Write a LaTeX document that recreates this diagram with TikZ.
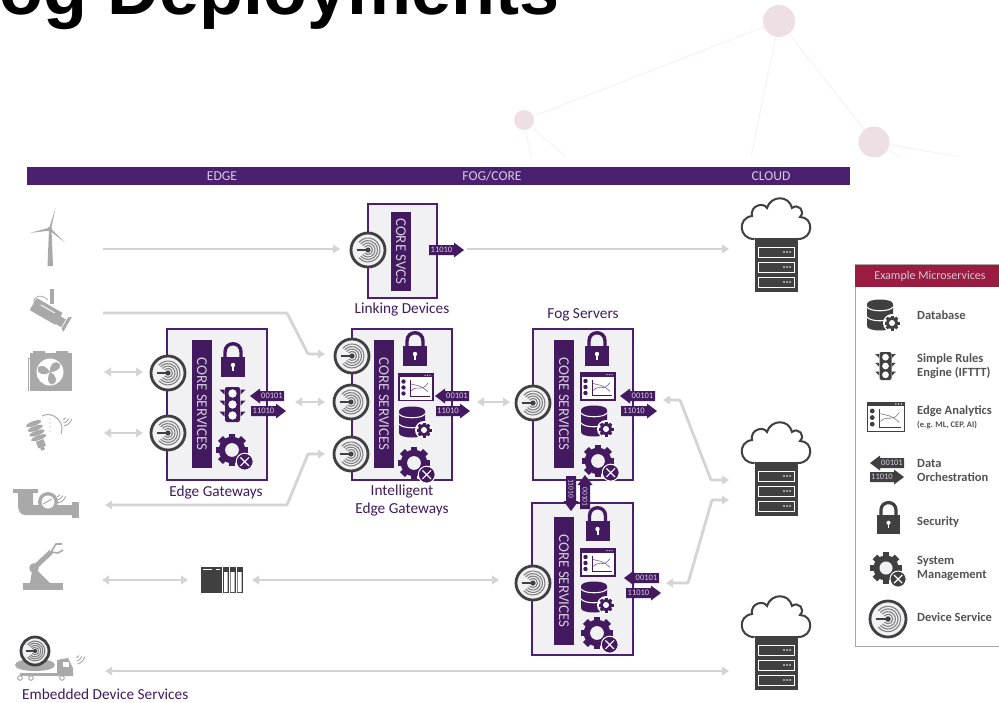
\documentclass[tikz,border=0pt]{standalone}
\usepackage{fontspec}
\setmainfont{Carlito}
\newfontfamily\titlefont{Liberation Sans}
\usetikzlibrary{arrows.meta}
\definecolor{fogpurple}{HTML}{4B2070}
\definecolor{iconpurple}{HTML}{43195F}
\definecolor{flowgray}{HTML}{D4D4D4}
\definecolor{devgray}{HTML}{A9A9A9}
\definecolor{darkicon}{HTML}{404040}
\definecolor{boxfill}{HTML}{F1F0F3}
\definecolor{pinknet}{HTML}{EEDFE5}
\definecolor{pinkline}{HTML}{F9F0F3}
\definecolor{legendred}{HTML}{9A1C40}
\definecolor{tiptext}{HTML}{D9CDE4}
\definecolor{softtext}{HTML}{D4CCDC}
\tikzset{
 flow/.style={draw=flowgray,line width=2.8pt,-{Triangle[length=7pt,width=8.5pt]},rounded corners=1pt},
 flowboth/.style={draw=flowgray,line width=2.8pt,{Triangle[length=7pt,width=8.5pt]}-{Triangle[length=7pt,width=8.5pt]},rounded corners=1pt},
 corebox/.style={draw=fogpurple,line width=2pt,fill=boxfill,inner sep=0pt},
 corebar/.style={fill=iconpurple,inner sep=0pt,text=softtext,font=\fontsize{15}{15}\selectfont},
 boxlabel/.style={text=fogpurple!85!black,font=\fontsize{15.3}{16}\selectfont,align=center,inner sep=0pt},
 headlabel/.style={text=softtext,font=\fontsize{13.6}{14}\selectfont,inner sep=0pt},
 legendlabel/.style={text=darkicon!90,font=\bfseries\fontsize{12.5}{14.5}\selectfont,align=left,anchor=west,inner sep=0pt},
 devcirc/.style={circle,draw=darkicon,line width=2.8pt,fill=#1,inner sep=0pt},
 devcirc/.default=boxfill,
}
% device service icon
\newcommand\devsvc[4]{%
 \node[devcirc,minimum size=#4*2pt] (#1) at (#2,#3) {};
 \begin{scope}[shift={(#2,#3)},scale=#4/17]
  \foreach \r in {4.5,7,9.5,12}{\draw[gray,line width=1.1pt] (140:\r) arc (140:-140:\r);}
  \fill[darkicon] (0,0) circle (2.6);
  \draw[darkicon,line width=1.1pt] (-11,0) -- (0,0);
 \end{scope}}
% lock
\newcommand\lockicon[4]{%
 \begin{scope}[shift={(#1,#2)},scale=#3]
  \draw[#4,line width=#3*3.4pt] (-8,-3) -- (-8,-8) .. controls (-8,-19) and (8,-19) .. (8,-8) -- (8,-3);
  \fill[#4] (-12,-3) rectangle (12,17);
  \fill[white] (0,5) circle (2.2);
  \fill[white] (-1,5) rectangle (1,11);
 \end{scope}}
% gear with badge
\newcommand\gearicon[4]{%
 \begin{scope}[shift={(#1,#2)},scale=#3*1.06]
  \foreach \a in {0,45,...,315}{\fill[#4,rotate=\a] (-3.2,-15.5) rectangle (3.2,-9);}
  \fill[#4] (0,0) circle (12.5);
  \fill[boxfill] (0,0) circle (6.5);
  \fill[#4,draw=white,line width=1pt] (12,11) circle (8);
  \draw[white,line width=1.2pt] (8,7) -- (16,15) (16,7) -- (8,15);
 \end{scope}}
% database
\newcommand\dbicon[4]{%
 \begin{scope}[shift={(#1,#2)},scale=#3]
  \fill[#4] (-16,-11) -- (-16,11) .. controls (-16,17) and (10,17) .. (10,11) -- (10,-11) .. controls (10,-17) and (-16,-17) .. (-16,-11) -- cycle;
  \foreach \y in {-8,2}{\draw[white,line width=1.1pt] (-16,\y) .. controls (-13,\y+5) and (7,\y+5) .. (10,\y);}
  \fill[white] (9,8) circle (9);
  \foreach \a in {0,45,...,315}{\fill[#4,rotate around={\a:(9,8)}] (7.5,0.5) rectangle (10.5,3);}
  \fill[#4] (9,8) circle (6);
  \fill[white] (9,8) circle (3);
 \end{scope}}
% analytics
\newcommand\anaicon[4]{%
 \begin{scope}[shift={(#1,#2)},scale=#3]
  \draw[#4,line width=1.1pt,fill=white] (-17,-13.5) rectangle (17,13.5);
  \fill[#4] (-17,-13.5) rectangle (17,-10);
  \fill[white] (9,-11.8) circle (.7) (11.5,-11.8) circle (.7) (14,-11.8) circle (.7);
  \fill[#4] (-12.5,-5.5) circle (2.2) (-12.5,0.5) circle (2.2) (-12.5,6.5) circle (2.2);
  \draw[#4,line width=.6pt] (-6,-7) -- (-6,9) -- (14,9);
  \draw[#4!70,line width=.6pt] (-5,4) .. controls (2,-3) and (5,6) .. (12,-4);
  \draw[#4!70,line width=.6pt] (-5,-3) .. controls (2,-1) and (5,-2) .. (12,5);
 \end{scope}}
% traffic light
\newcommand\trafficicon[4]{%
 \begin{scope}[shift={(#1,#2)},scale=#3]
  \fill[#4,rounded corners=2pt] (-7.5,-17.5) rectangle (7.5,17.5);
  \foreach \y in {-11,0,11}{
   \fill[white] (0,\y) circle (4.2);
   \fill[#4] (-13,\y-4) -- (-8,\y-4) -- (-8,\y+1) -- cycle;
   \fill[#4] (13,\y-4) -- (8,\y-4) -- (8,\y+1) -- cycle;}
 \end{scope}}
% data arrows: left tip .. right end / left end .. right tip
\newcommand\arrleft[5]{%
 \fill[#5] (#1,#3) -- (#1+10,#3-7.5) -- (#1+10,#3-5) -- (#2,#3-5) -- (#2,#3+5) -- (#1+10,#3+5) -- (#1+10,#3+7.5) -- cycle;
 \node[transform shape,text=tiptext,font=\fontsize{#4}{#4}\selectfont,inner sep=0pt] at ({(#1+10+#2)/2},#3) {00101};}
\newcommand\arrright[5]{%
 \fill[#5] (#2,#3) -- (#2-10,#3-7.5) -- (#2-10,#3-5) -- (#1,#3-5) -- (#1,#3+5) -- (#2-10,#3+5) -- (#2-10,#3+7.5) -- cycle;
 \node[transform shape,text=tiptext,font=\fontsize{#4}{#4}\selectfont,inner sep=0pt] at ({(#1+#2-10)/2},#3) {11010};}
% cloud and server
\newcommand\cloudsrv[3]{%
 \begin{scope}[shift={(#2,#3)}]
  \draw[darkicon,line width=2pt,line cap=round] (-22,36) .. controls (-37,36) and (-39,15) .. (-24,13) .. controls (-26,2) and (-12,-1) .. (-9,5) .. controls (-5,-8) and (13,-8) .. (16,5) .. controls (22,0) and (30,8) .. (24,14) .. controls (38,14) and (38,36) .. (22,36);
  \node[fill=darkicon,minimum width=43pt,minimum height=54pt,inner sep=0pt] (#1) at (0,62) {};
  \foreach \y in {44,59,74}{
   \draw[white,line width=.9pt] (-18,\y) rectangle (18,\y+10);
   \fill[white] (8,\y+5) circle (.8) (11,\y+5) circle (.8) (14,\y+5) circle (.8);}
 \end{scope}}
\newcommand\wifi[4]{%
 \begin{scope}[shift={(#1,#2)},rotate=#3]
  \foreach \r in {3,6,9}{\draw[devgray,line width=.9pt] (-35:\r) .. controls (-12:\r*1.05) and (12:\r*1.05) .. (35:\r);}
 \end{scope}}
\begin{document}
\begin{tikzpicture}[x=1pt,y=-1pt]
\useasboundingbox (0,0) rectangle (999,702);
\begin{scope}
\clip (0,0) rectangle (999,702);
\fill[white] (0,0) rectangle (999,702);
% background network
\draw[pinkline,line width=1pt] (779,21) -- (524,120) (779,21) -- (751,157) (779,21) -- (874,142) (524,120) -- (531,157) (524,120) -- (566,157) (874,142) -- (960,157) (874,142) -- (900,157);
\fill[pinknet] (779,21) circle (16) (524,120) circle (10) (874,142) circle (15.5);
\fill[white] (0,157) rectangle (999,702);
% title
\node[anchor=base west,inner sep=0pt,font=\titlefont\bfseries\fontsize{72}{72}\selectfont] (title) at (-1,14) {og Deployments};
% header
\fill[fogpurple] (27,167) rectangle (850,185);
\node[headlabel] (hedge) at (222,176) {EDGE};
\node[headlabel] (hfog) at (492,176) {FOG/CORE};
\node[headlabel] (hcloud) at (771,176) {CLOUD};

% connector end points
\coordinate (windR) at (103,249);
\coordinate (linkL) at (340,249);
\coordinate (linkR) at (467,249);
\coordinate (cloudAL) at (729,249);
\coordinate (camR) at (103,313);
\coordinate (camA) at (287,313);
\coordinate (camB) at (308,354);
\coordinate (iegTL) at (325,354);
\coordinate (fanR) at (104,372);
\coordinate (gwTL) at (143,372);
\coordinate (bulbR) at (104,433);
\coordinate (gwBL) at (143,433);
\coordinate (pipeR) at (105,505);
\coordinate (pipeA) at (287,505);
\coordinate (pipeB) at (308,454);
\coordinate (iegBL) at (325,454);
\coordinate (gwR) at (295,402);
\coordinate (iegML) at (325,402);
\coordinate (iegR) at (477,402);
\coordinate (fogAL) at (510,402);
\coordinate (robotR) at (102,580);
\coordinate (plcL) at (188,580);
\coordinate (plcR) at (252,580);
\coordinate (fogBL) at (499,580);
\coordinate (truckR) at (105,671);
\coordinate (cloudCL) at (729,671);
\coordinate (fogAR) at (663,400);
\coordinate (fogAa) at (680,400);
\coordinate (fogAb) at (711,480);
\coordinate (cloudBLa) at (729,480);
\coordinate (fogBR) at (666,583);
\coordinate (fogBa) at (688,583);
\coordinate (fogBb) at (712,500);
\coordinate (cloudBLb) at (729,500);

\draw[flow] (windR) -- (linkL);
\draw[flow] (linkR) -- (cloudAL);
\draw[flow] (camR) -- (camA) -- (camB) -- (iegTL);
\draw[flowboth] (fanR) -- (gwTL);
\draw[flowboth] (bulbR) -- (gwBL);
\draw[flowboth] (pipeR) -- (pipeA) -- (pipeB) -- (iegBL);
\draw[flowboth] (gwR) -- (iegML);
\draw[flowboth] (iegR) -- (fogAL);
\draw[flowboth] (robotR) -- (plcL);
\draw[flowboth] (plcR) -- (fogBL);
\draw[flowboth] (truckR) -- (cloudCL);
\draw[flowboth] (fogAR) -- (fogAa) -- (fogAb) -- (cloudBLa);
\draw[flowboth] (fogBR) -- (fogBa) -- (fogBb) -- (cloudBLb);

% Linking device
\node[corebox,minimum width=69pt,minimum height=94pt] (link) at (402.5,251) {};
\node[corebar,minimum width=20pt,minimum height=79pt] (linkbar) at (401,251.5) {\rotatebox{-90}{CORE SVCS}};
\devsvc{linkdev}{368}{250}{17}
\arrright{429}{464}{250}{8.5}{iconpurple}
\node[boxlabel] (linklbl) at (402,309) {Linking Devices};

% Edge gateway
\node[corebox,minimum width=100pt,minimum height=151pt] (gw) at (217,404.5) {};
\node[corebar,minimum width=20pt,minimum height=128pt] (gwbar) at (202,404) {\rotatebox{-90}{CORE SERVICES}};
\devsvc{gwdevA}{168}{373}{17}
\devsvc{gwdevB}{168}{433}{17}
\lockicon{233}{360}{1}{iconpurple}
\trafficicon{232.5}{404.5}{1}{iconpurple}
\gearicon{232}{450}{1}{iconpurple}
\arrleft{250}{284}{396}{8.5}{iconpurple}
\arrright{251}{286}{411}{8.5}{iconpurple}
\node[boxlabel] (gwlbl) at (216,492) {Edge Gateways};

% Intelligent edge gateway
\node[corebox,minimum width=100pt,minimum height=151pt] (ieg) at (402,404.5) {};
\node[corebar,minimum width=20pt,minimum height=128pt] (iegbar) at (384,404) {\rotatebox{-90}{CORE SERVICES}};
\devsvc{iegdevA}{352}{356}{17}
\devsvc{iegdevB}{351}{402}{17}
\devsvc{iegdevC}{351}{454}{17}
\lockicon{415}{349}{1}{iconpurple}
\anaicon{416}{387}{1}{iconpurple}
\dbicon{415}{422}{1}{iconpurple}
\gearicon{414}{463}{1}{iconpurple}
\arrleft{435}{469}{396}{8.5}{iconpurple}
\arrright{436}{470}{411}{8.5}{iconpurple}
\node[boxlabel] (ieglbl) at (402,500.5) {Intelligent\\[1.5pt]Edge Gateways};

% Fog server A
\node[corebox,minimum width=100pt,minimum height=151pt] (foga) at (583,404.5) {};
\node[corebar,minimum width=20pt,minimum height=128pt] (fogabar) at (564,404) {\rotatebox{-90}{CORE SERVICES}};
\devsvc{fogadev}{533}{403}{17}
\lockicon{597}{349}{1}{iconpurple}
\anaicon{598}{386.5}{1}{iconpurple}
\dbicon{597}{421}{1}{iconpurple}
\gearicon{598}{461}{1}{iconpurple}
\arrleft{620}{655}{396}{8.5}{iconpurple}
\arrright{621}{657}{411}{8.5}{iconpurple}
\node[boxlabel] (fogalbl) at (583,315) {Fog Servers};

% Fog server B
\node[corebox,minimum width=101pt,minimum height=152pt] (fogb) at (582.5,579) {};
\node[corebar,minimum width=20pt,minimum height=128pt] (fogbbar) at (564,581) {\rotatebox{-90}{CORE SERVICES}};
\devsvc{fogbdev}{533}{583}{17}
\lockicon{597.5}{524}{1}{iconpurple}
\anaicon{598}{562.5}{1}{iconpurple}
\dbicon{597}{597}{1}{iconpurple}
\gearicon{597}{633}{1}{iconpurple}
\arrleft{624}{659}{578}{8.5}{iconpurple}
\arrright{626}{661}{593}{8.5}{iconpurple}

% vertical arrows between fog servers
\begin{scope}[shift={(571,493.5)},rotate=-90]
 \arrright{-17.5}{17.5}{0}{7.5}{iconpurple}
\end{scope}
\begin{scope}[shift={(585,492)},rotate=-90]
 \arrleft{-17}{17}{0}{7.5}{iconpurple}
\end{scope}

% PLC
\fill[darkicon] (201,567) rectangle (243,593);
\draw[white,line width=.8pt] (222.5,567) -- (222.5,593) (229,567) -- (229,593) (236,567) -- (236,593);
\fill[white] (224,572) rectangle (227.5,592) (230.5,572) rectangle (234.5,592) (237.5,572) rectangle (241.5,592);
\draw[white,line width=.7pt] (203,569.5) -- (212,569.5) (216,569.5) -- (220,569.5);

% clouds
\cloudsrv{cloudA}{776}{203}
\cloudsrv{cloudB}{776}{427}
\cloudsrv{cloudC}{776}{601}

% field devices ------------------------------------------------
% wind turbine
\fill[devgray] (47.5,266) -- (53,266) -- (51.5,229) -- (49,229) -- cycle;
\fill[devgray] (50,229) circle (2.3);
\fill[devgray] (49.2,228) -- (55.5,208) -- (51,229.5) -- cycle;
\fill[devgray] (50,227.5) -- (30,233) -- (50,230.5) -- cycle;
\fill[devgray] (50.5,228) -- (65.5,243) -- (49,230) -- cycle;
% camera
\fill[devgray] (50,289) rectangle (54,304);
\begin{scope}[shift={(47,312)},rotate=-30]
 \fill[devgray,rounded corners=1pt] (-16,-7) rectangle (14,7);
 \fill[white] (-9,-3.5) rectangle (7,-2.6);
 \fill[devgray] (14,-3) -- (20,-3) -- (20,6) -- (14,6) -- cycle;
 \fill[devgray] (21,-6) -- (24,-8) -- (24,9) -- (21,7) -- cycle;
\end{scope}
\draw[devgray,line width=.8pt] (34,303) .. controls (33,295) and (42,294) .. (48,300);
% fan unit
\fill[devgray] (30,353) rectangle (72,391);
\fill[devgray] (33,351) rectangle (45,354) (56,351) rectangle (68,354);
\draw[devgray,line width=1pt] (30,358) -- (28,358) -- (28,391);
\fill[white] (50,372) circle (13.5);
\foreach \a in {20,140,260}{\fill[devgray,rotate around={\a:(50,372)}] (50,372) .. controls (52,364) and (60,362) .. (62,368) .. controls (62,373) and (55,374) .. (50,372) -- cycle;}
% bulb
\begin{scope}[shift={(37,433)},rotate=20]
 \foreach \y in {-10,-5,0,5}{\fill[devgray] (0,\y) ellipse (8 and 2.4);}
 \fill[devgray] (-4,8) rectangle (4,15);
 \fill[devgray] (-2,15) rectangle (2,18);
\end{scope}
\draw[devgray,line width=1pt] (42,416) .. controls (52,410) and (66,422) .. (61,434);
\foreach \y in {419,423,427,431}{\fill[devgray] (50,\y) circle (.7);}
\wifi{63}{417}{-50}{}
% pipe and meter
\fill[devgray] (13,489) rectangle (38,493);
\fill[devgray] (18,493) -- (33,493) -- (33,505) -- (72,505) -- (72,515) -- (25,515) .. controls (20,515) and (18,510) .. (18,505) -- cycle;
\fill[devgray] (72,502) rectangle (79,518);
\fill[devgray] (48,502) circle (10);
\fill[white] (48,502) circle (6.5);
\draw[devgray,line width=1pt] (43,504) -- (52,499);
\wifi{57}{494}{-50}{}
% robot arm
\fill[devgray] (23,583) rectangle (63,590);
\fill[devgray] (30,583) -- (50,583) -- (38,571) -- (32,571) -- cycle;
\draw[devgray,line width=5pt] (34,568) -- (51,552);
\fill[devgray] (34,568) circle (4.8);
\draw[devgray,line width=1.6pt] (51,552) -- (56,544) -- (62,544) (51,552) -- (58,553) -- (63,550);
% truck with embedded device
\fill[devgray] (15,665) .. controls (15,657) and (55,657) .. (55,665) .. controls (55,673) and (15,673) .. (15,665) -- cycle;
\fill[devgray] (20,673) rectangle (58,676);
\fill[devgray] (57,673) -- (57,660) -- (68,658) -- (73,668) -- (73,676) -- (57,676) -- cycle;
\fill[white] (63,662) rectangle (69,667);
\foreach \x in {20,31,62}{\draw[devgray,fill=white,line width=1pt] (\x,678) circle (2.3);}
\devsvc{truckdev}{35}{651}{14}
\wifi{76}{655}{-45}{}
\node[boxlabel,anchor=west] (trucklbl) at (22,694) {Embedded Device Services};

% legend -------------------------------------------------------
\node[draw=gray!70,fill=white,line width=1pt,minimum width=146pt,minimum height=382pt,inner sep=0pt] (legend) at (928,455.5) {};
\fill[legendred] (855,264.5) rectangle (999,287);
\node[text=softtext,font=\fontsize{12}{12}\selectfont,inner sep=0pt] (legendhead) at (930,276) {Example Microservices};
\dbicon{883}{315}{1}{darkicon}
\node[legendlabel] (lgdb) at (917,315) {Database};
\trafficicon{885.5}{366}{.8}{darkicon}
\node[legendlabel] (lgrules) at (917,366) {Simple Rules\\Engine (IFTTT)};
\anaicon{886}{417}{1.1}{darkicon}
\node[legendlabel] (lgana) at (917,411) {Edge Analytics};
\node[legendlabel,font=\bfseries\fontsize{8.5}{9}\selectfont] (lganasub) at (917,425) {(e.g. ML, CEP, AI)};
\arrleft{870}{904}{463}{8.5}{darkicon}
\arrright{870}{904}{477}{8.5}{darkicon}
\node[legendlabel] (lgdata) at (917,470.5) {Data\\Orchestration};
\lockicon{888.5}{518}{.95}{darkicon}
\node[legendlabel] (lgsec) at (917,522) {Security};
\gearicon{886}{568}{.95}{darkicon}
\node[legendlabel] (lgsys) at (917,568.5) {System\\Management};
\devsvc{lgdev}{888}{619}{18}
\node[legendlabel] (lgdevlbl) at (917,617) {Device Service};
\end{scope}
\end{tikzpicture}
\end{document}
